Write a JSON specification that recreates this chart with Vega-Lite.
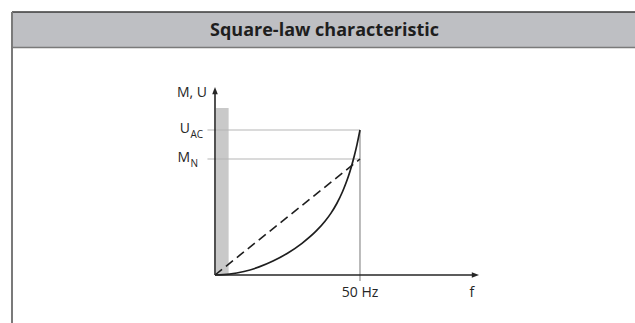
{
  "$schema": "https://vega.github.io/schema/vega-lite/v6.json",
  "width": 635,
  "height": 323,
  "autosize": {"type": "none"},
  "padding": 0,
  "background": "white",
  "config": {"view": {"stroke": null}, "axis": {"disable": true}, "text": {"font": "Open Sans", "color": "#262626"}},
  "datasets": {
    "square": [
      {"f": 0, "v": 0},
      {"f": 5, "v": 0.87},
      {"f": 10, "v": 3.48},
      {"f": 15, "v": 7.83},
      {"f": 20, "v": 13.93},
      {"f": 25, "v": 21.8},
      {"f": 30, "v": 31.7},
      {"f": 35, "v": 44.3},
      {"f": 38, "v": 54.0},
      {"f": 40, "v": 61.9},
      {"f": 42, "v": 71.5},
      {"f": 44, "v": 83.5},
      {"f": 45, "v": 90.7},
      {"f": 46, "v": 98.8},
      {"f": 47, "v": 108.1},
      {"f": 48, "v": 118.7},
      {"f": 49, "v": 130.9},
      {"f": 50, "v": 145}
    ],
    "linear": [
      {"f": 0, "v": 0},
      {"f": 50, "v": 116}
    ],
    "levels": [
      {"sym": "U", "sub": "AC", "v": 145},
      {"sym": "M", "sub": "N", "v": 116}
    ],
    "one": [{}]
  },
  "layer": [
    {
      "data": {"name": "one"},
      "mark": {"type": "rect", "fill": "#bebfc3"},
      "encoding": {
        "x": {"datum": -70, "type": "quantitative", "scale": {"domain": [-74.1379, 144.8276], "nice": false, "zero": false}},
        "x2": {"datum": 144.83},
        "y": {"datum": 263, "type": "quantitative", "scale": {"domain": [-48, 275], "nice": false, "zero": false}},
        "y2": {"datum": 227.5}
      }
    },
    {
      "data": {"name": "one"},
      "mark": {"type": "rule", "stroke": "#3a3a3a", "strokeWidth": 1.5},
      "encoding": {
        "x": {"datum": -70, "type": "quantitative"},
        "x2": {"datum": 144.83},
        "y": {"datum": 263, "type": "quantitative"}
      }
    },
    {
      "data": {"name": "one"},
      "mark": {"type": "rule", "stroke": "#7a7a7a", "strokeWidth": 1.5},
      "encoding": {
        "x": {"datum": -70, "type": "quantitative"},
        "x2": {"datum": 144.83},
        "y": {"datum": 227.5, "type": "quantitative"}
      }
    },
    {
      "data": {"name": "one"},
      "mark": {"type": "rule", "stroke": "#7a7a7a", "strokeWidth": 2},
      "encoding": {
        "x": {"datum": -70, "type": "quantitative"},
        "y": {"datum": 263, "type": "quantitative"},
        "y2": {"datum": -48}
      }
    },
    {
      "data": {"name": "one"},
      "mark": {"type": "text", "fontSize": 18, "fontWeight": "bold", "align": "center", "baseline": "alphabetic", "color": "#1e1e1e"},
      "encoding": {
        "x": {"datum": 37.76, "type": "quantitative"},
        "y": {"datum": 239, "type": "quantitative"},
        "text": {"value": "Square-law characteristic"}
      }
    },
    {
      "data": {"name": "one"},
      "mark": {"type": "rect", "fill": "#c9c9c9"},
      "encoding": {
        "x": {"datum": 0.35, "type": "quantitative"},
        "x2": {"datum": 4.7},
        "y": {"datum": 0, "type": "quantitative"},
        "y2": {"datum": 167}
      }
    },
    {
      "data": {"name": "levels"},
      "mark": {"type": "rule", "stroke": "#b5b5b5", "strokeWidth": 1},
      "encoding": {
        "x": {"datum": -2.6, "type": "quantitative"},
        "x2": {"datum": 50},
        "y": {"field": "v", "type": "quantitative"}
      }
    },
    {
      "data": {"name": "one"},
      "mark": {"type": "rule", "stroke": "#777777", "strokeWidth": 1},
      "encoding": {
        "x": {"datum": 50, "type": "quantitative"},
        "y": {"datum": -6, "type": "quantitative"},
        "y2": {"datum": 145}
      }
    },
    {
      "data": {"name": "linear"},
      "mark": {"type": "line", "stroke": "#1e1e1e", "strokeWidth": 1.6, "strokeDash": [9, 5]},
      "encoding": {
        "x": {"field": "f", "type": "quantitative"},
        "y": {"field": "v", "type": "quantitative"}
      }
    },
    {
      "data": {"name": "square"},
      "mark": {"type": "line", "stroke": "#1e1e1e", "strokeWidth": 1.7, "interpolate": "monotone"},
      "encoding": {
        "x": {"field": "f", "type": "quantitative"},
        "y": {"field": "v", "type": "quantitative"}
      }
    },
    {
      "data": {"name": "one"},
      "mark": {"type": "rule", "stroke": "#262626", "strokeWidth": 1.6},
      "encoding": {
        "x": {"datum": 0, "type": "quantitative"},
        "y": {"datum": 0, "type": "quantitative"},
        "y2": {"datum": 184}
      }
    },
    {
      "data": {"name": "one"},
      "mark": {"type": "rule", "stroke": "#262626", "strokeWidth": 1.6},
      "encoding": {
        "x": {"datum": 0, "type": "quantitative"},
        "x2": {"datum": 89.66},
        "y": {"datum": 0, "type": "quantitative"}
      }
    },
    {
      "data": {"name": "one"},
      "mark": {"type": "point", "shape": "M0,-1L0.7,0.8L-0.7,0.8Z", "size": 64, "filled": true, "color": "#262626", "opacity": 1},
      "encoding": {
        "x": {"datum": 0, "type": "quantitative"},
        "y": {"datum": 184, "type": "quantitative"}
      }
    },
    {
      "data": {"name": "one"},
      "mark": {"type": "point", "shape": "M0,-1L0.7,0.8L-0.7,0.8Z", "size": 64, "filled": true, "color": "#262626", "opacity": 1, "angle": 90},
      "encoding": {
        "x": {"datum": 89.66, "type": "quantitative"},
        "y": {"datum": 0, "type": "quantitative"}
      }
    },
    {
      "data": {"name": "one"},
      "mark": {"type": "text", "fontSize": 14, "align": "right", "baseline": "alphabetic"},
      "encoding": {
        "x": {"datum": -2.76, "type": "quantitative"},
        "y": {"datum": 178, "type": "quantitative"},
        "text": {"value": "M, U"}
      }
    },
    {
      "data": {"name": "levels"},
      "mark": {"type": "text", "fontSize": 14, "align": "right", "baseline": "alphabetic", "dy": 3},
      "encoding": {
        "x": {"datum": -8.62, "type": "quantitative"},
        "y": {"field": "v", "type": "quantitative"},
        "text": {"field": "sym"}
      }
    },
    {
      "data": {"name": "levels"},
      "mark": {"type": "text", "fontSize": 10, "align": "left", "baseline": "alphabetic", "dy": 7.5},
      "encoding": {
        "x": {"datum": -8.45, "type": "quantitative"},
        "y": {"field": "v", "type": "quantitative"},
        "text": {"field": "sub"}
      }
    },
    {
      "data": {"name": "one"},
      "mark": {"type": "text", "fontSize": 14, "align": "center", "baseline": "alphabetic"},
      "encoding": {
        "x": {"datum": 50, "type": "quantitative"},
        "y": {"datum": -22, "type": "quantitative"},
        "text": {"value": "50 Hz"}
      }
    },
    {
      "data": {"name": "one"},
      "mark": {"type": "text", "fontSize": 14, "align": "center", "baseline": "alphabetic"},
      "encoding": {
        "x": {"datum": 88.6, "type": "quantitative"},
        "y": {"datum": -22, "type": "quantitative"},
        "text": {"value": "f"}
      }
    }
  ]
}
